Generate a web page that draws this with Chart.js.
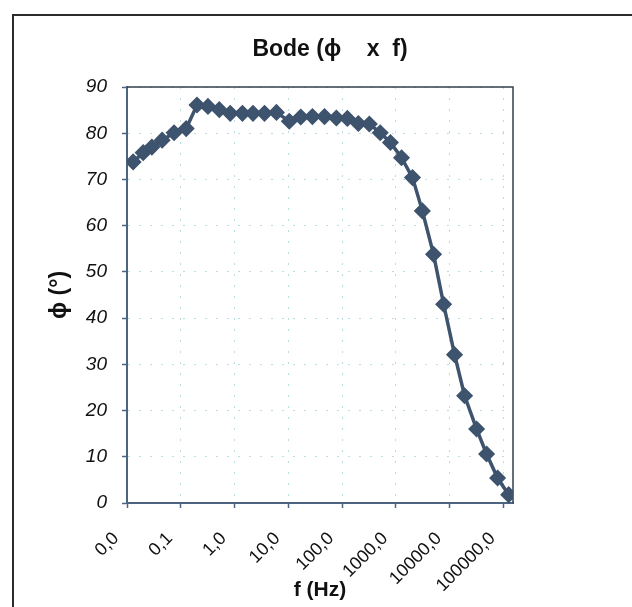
<!DOCTYPE html>
<html>
<head>
<meta charset="utf-8">
<title>Bode (ϕ x f)</title>
<script src="https://cdn.jsdelivr.net/npm/chart.js@4.4.1/dist/chart.umd.min.js"></script>
<style>
  html, body { margin: 0; padding: 0; background: #fff; overflow: hidden; }
  #wrap { position: relative; width: 632px; height: 607px; }
  #frame { position: absolute; left: 12px; top: 14px; width: 640px; height: 620px; border-left: 2px solid #2b2b2b; border-top: 2px solid #2b2b2b; }
  #title { position: absolute; left: 200px; width: 260px; top: 35px; line-height: 26px; text-align: center; font: bold 23px Arial, "Liberation Sans", sans-serif; white-space: pre; color: #111; }
  canvas { position: absolute; left: 0; top: 0; }
</style>
</head>
<body>
<div id="wrap">
  <div id="frame"></div>
  <canvas id="bode" width="632" height="607"></canvas>
  <div id="title">Bode (ϕ    x  f)</div>
</div>
<script>
const freqHz = [0.013, 0.02, 0.029, 0.045, 0.075, 0.126, 0.2, 0.32, 0.52, 0.83,
  1.4, 2.2, 3.6, 6, 10.4, 17, 28, 47, 78, 125,
  200, 320, 510, 790, 1270, 2030, 3100, 5000, 7700, 12300,
  18900, 31600, 48400, 77600, 124500]
const phaseDeg = [73.8, 75.8, 77.0, 78.5, 80.1, 81.0, 86.1, 85.8, 85.1, 84.3,
  84.3, 84.3, 84.3, 84.5, 82.6, 83.5, 83.6, 83.6, 83.3, 83.2,
  82.1, 82.0, 80.1, 78.0, 74.7, 70.4, 63.2, 53.8, 43.0, 32.1,
  23.2, 16.0, 10.6, 5.4, 1.8]

// axis ticks
const xTickValues = [0.01, 0.1, 1, 10, 100, 1000, 10000, 100000]
const xTickLabels = ['0,0', '0,1', '1,0', '10,0', '100,0', '1000,0', '10000,0', '100000,0']
const yTickValues = [0, 10, 20, 30, 40, 50, 60, 70, 80, 90]

const fontFamily = 'Arial, "Liberation Sans", sans-serif'
const lineColor = '#3e536d'
const axisColor = '#4d6480'
const gridColor = 'rgba(110, 190, 190, 0.5)'

// top and right edge of the plot area
const plotFrame = {
  id: 'plotFrame',
  beforeDatasetsDraw(chart) {
    const { ctx, chartArea: a } = chart
    ctx.save()
    ctx.strokeStyle = '#34404e'
    ctx.lineWidth = 1.5
    ctx.beginPath()
    ctx.moveTo(a.left, a.top)
    ctx.lineTo(a.right, a.top)
    ctx.lineTo(a.right, a.bottom)
    ctx.stroke()
    ctx.restore()
  }
}

const ctx = document.getElementById('bode').getContext('2d')

new Chart(ctx, {
  type: 'scatter',
  data: {
    datasets: [{
      label: 'ϕ',
      data: freqHz.map((f, i) => ({ x: f, y: phaseDeg[i] })),
      showLine: true,
      borderColor: lineColor,
      borderWidth: 3.5,
      backgroundColor: lineColor,
      pointStyle: 'rectRot',
      pointRadius: 7.5,
      pointBorderWidth: 1.5,
      pointBorderColor: lineColor,
      pointBackgroundColor: lineColor
    }]
  },
  options: {
    responsive: false,
    animation: false,
    layout: { padding: { top: 87, right: 119, bottom: 0, left: 0 } },
    scales: {
      x: {
        type: 'logarithmic',
        min: 0.01,
        max: 150000,
        afterBuildTicks: scale => { scale.ticks = xTickValues.map(v => ({ value: v })) },
        afterFit: scale => { scale.height = 104 },
        grid: { color: gridColor, lineWidth: 1, tickLength: 5, tickColor: axisColor, tickWidth: 1.5 },
        border: { color: axisColor, width: 2, dash: [2, 9] },
        ticks: {
          autoSkip: false,
          maxRotation: 45,
          minRotation: 45,
          padding: 20,
          labelOffset: -11,
          color: '#111',
          font: { family: fontFamily, size: 18 },
          callback: (value, index) => xTickLabels[index]
        },
        title: {
          display: true,
          text: 'f (Hz)',
          color: '#111',
          font: { family: fontFamily, size: 21, weight: 'bold' },
          padding: { top: 0, bottom: 4 }
        }
      },
      y: {
        min: 0,
        max: 90,
        afterBuildTicks: scale => { scale.ticks = yTickValues.map(v => ({ value: v })) },
        afterFit: scale => { scale.width = 127 },
        grid: { color: gridColor, lineWidth: 1, tickLength: 5, tickColor: axisColor, tickWidth: 1.5 },
        border: { color: axisColor, width: 2, dash: [2, 9] },
        ticks: {
          padding: 15,
          color: '#111',
          font: { family: fontFamily, size: 19, style: 'italic' }
        },
        title: {
          display: true,
          text: 'ϕ (°)',
          color: '#111',
          font: { family: fontFamily, size: 23, weight: 'bold' },
          padding: { top: 46, bottom: 0 }
        }
      }
    },
    plugins: {
      legend: { display: false },
      tooltip: { enabled: false }
    }
  },
  plugins: [plotFrame]
})
</script>
</body>
</html>
